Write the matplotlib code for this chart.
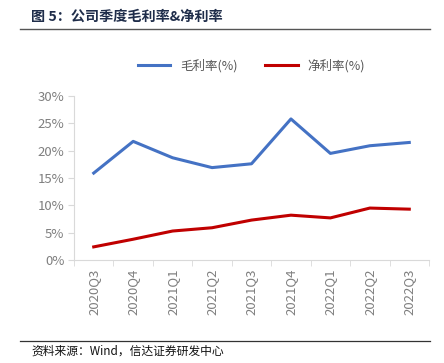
import matplotlib
matplotlib.use('Agg')
import matplotlib.pyplot as plt
from matplotlib.ticker import FuncFormatter

plt.rcParams['font.family'] = ['Noto Sans CJK SC', 'DejaVu Sans']

# 数据
quarters = ['2020Q3', '2020Q4', '2021Q1', '2021Q2', '2021Q3',
            '2021Q4', '2022Q1', '2022Q2', '2022Q3']
gross_margin = [15.9, 21.7, 18.7, 16.9, 17.6, 25.8, 19.5, 20.9, 21.5]
net_margin = [2.4, 3.8, 5.3, 5.9, 7.3, 8.2, 7.7, 9.5, 9.3]

W, H = 444, 363
fig = plt.figure(figsize=(W / 100, H / 100), dpi=100)

# 标题和分隔线
fig.text(31 / W, 1 - 17 / H, '图 5：公司季度毛利率&净利率', fontsize=10.2,
         fontweight='bold', color='#1f2d4a', va='center')
fig.add_artist(plt.Line2D([20 / W, 430 / W], [1 - 29 / H, 1 - 29 / H],
                          color='#555555', lw=1))
fig.add_artist(plt.Line2D([20 / W, 430 / W], [1 - 341 / H, 1 - 341 / H],
                          color='#333333', lw=0.9))
fig.text(31 / W, 1 - 351 / H, '资料来源：Wind，信达证券研发中心', fontsize=8.5,
         style='italic', color='#111111', va='center')

ax = fig.add_axes([74 / W, 1 - 260 / H, 355 / W, 164 / H])
x = list(range(len(quarters)))
ax.plot(x, gross_margin, color='#4472C4', lw=2.2, label='毛利率(%)')
ax.plot(x, net_margin, color='#C00000', lw=2.2, label='净利率(%)')

ax.set_xlim(-0.5, len(quarters) - 0.5)
ax.set_ylim(0, 30)
ax.set_yticks(range(0, 31, 5))
ax.yaxis.set_major_formatter(FuncFormatter(lambda v, p: '%d%%' % v))
ax.set_xticks(x)
ax.set_xticklabels(quarters, rotation=90)
ax.set_xticks([i - 0.5 for i in range(len(quarters) + 1)], minor=True)

for s in ['top', 'right']:
    ax.spines[s].set_visible(False)
for s in ['left', 'bottom']:
    ax.spines[s].set_color('#d9d9d9')
ax.tick_params(axis='y', length=4, color='#d9d9d9', labelcolor='#7f7f7f',
               labelsize=9.5, pad=3)
ax.tick_params(axis='x', which='major', length=0, labelcolor='#7f7f7f',
               labelsize=9.5, pad=6)
ax.tick_params(axis='x', which='minor', length=4, color='#d9d9d9')

ax.legend(loc='center', bbox_to_anchor=(0.5, 1 + 30 / 164), ncol=2,
          frameon=False, fontsize=9, handlelength=2.6, columnspacing=2.2,
          labelcolor='#595959')

fig.savefig('out.png', dpi=100)
